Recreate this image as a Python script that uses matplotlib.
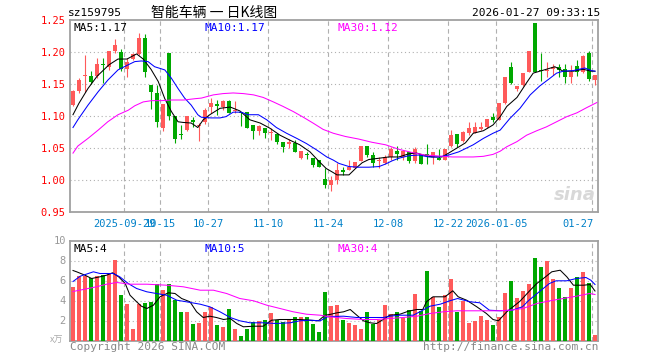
import numpy as np
import matplotlib
matplotlib.use("Agg")
import matplotlib.pyplot as plt

# ---- data (88 trading days, 2025-09-16 .. 2026-01-27) ----
opens = [1.117, 1.139, 1.162, 1.163, 1.163, 1.182, 1.176, 1.201, 1.200, 1.174,
         1.189, 1.197, 1.222, 1.148, 1.136, 1.082, 1.199, 1.100, 1.071, 1.078,
         1.093, 1.085, 1.090, 1.114, 1.118, 1.114, 1.123, 1.108, 1.106, 1.106,
         1.086, 1.077, 1.081, 1.073, 1.072, 1.059, 1.057, 1.058, 1.035, 1.040,
         1.035, 1.031, 1.001, 0.992, 1.000, 1.015, 1.016, 1.019, 1.029, 1.053,
         1.039, 1.029, 1.026, 1.036, 1.045, 1.036, 1.044, 1.029, 1.040, 1.041,
         1.036, 1.035, 1.032, 1.053, 1.072, 1.061, 1.074, 1.074, 1.079, 1.083,
         1.099, 1.093, 1.121, 1.176, 1.142, 1.148, 1.169, 1.245, 1.172, 1.170,
         1.174, 1.177, 1.174, 1.161, 1.178, 1.169, 1.198, 1.156]
highs = [1.141, 1.160, 1.195, 1.170, 1.190, 1.191, 1.202, 1.220, 1.205, 1.191,
         1.199, 1.230, 1.228, 1.149, 1.148, 1.118, 1.199, 1.100, 1.086, 1.100,
         1.099, 1.089, 1.112, 1.128, 1.125, 1.125, 1.125, 1.123, 1.106, 1.106,
         1.086, 1.086, 1.081, 1.081, 1.074, 1.059, 1.064, 1.062, 1.045, 1.044,
         1.035, 1.031, 1.019, 1.006, 1.027, 1.021, 1.031, 1.028, 1.053, 1.053,
         1.044, 1.036, 1.039, 1.052, 1.053, 1.045, 1.044, 1.052, 1.040, 1.057,
         1.044, 1.049, 1.049, 1.078, 1.072, 1.077, 1.091, 1.091, 1.091, 1.096,
         1.105, 1.121, 1.161, 1.185, 1.147, 1.167, 1.202, 1.245, 1.199, 1.185,
         1.182, 1.182, 1.182, 1.180, 1.187, 1.195, 1.202, 1.164]
lows = [1.116, 1.136, 1.138, 1.150, 1.159, 1.152, 1.172, 1.198, 1.170, 1.161,
        1.188, 1.195, 1.161, 1.111, 1.083, 1.076, 1.094, 1.058, 1.064, 1.077,
        1.083, 1.061, 1.088, 1.104, 1.102, 1.109, 1.105, 1.104, 1.085, 1.082,
        1.064, 1.070, 1.065, 1.063, 1.056, 1.043, 1.050, 1.044, 1.033, 1.033,
        1.021, 1.021, 0.987, 0.983, 0.993, 1.008, 1.015, 1.018, 1.029, 1.036,
        1.021, 1.018, 1.025, 1.032, 1.032, 1.032, 1.027, 1.027, 1.025, 1.025,
        1.025, 1.031, 1.031, 1.052, 1.052, 1.060, 1.070, 1.073, 1.078, 1.081,
        1.091, 1.093, 1.119, 1.150, 1.139, 1.147, 1.168, 1.169, 1.155, 1.161,
        1.164, 1.161, 1.151, 1.151, 1.162, 1.167, 1.155, 1.148]
closes = [1.139, 1.156, 1.163, 1.153, 1.182, 1.180, 1.201, 1.211, 1.174, 1.185,
          1.197, 1.222, 1.168, 1.138, 1.090, 1.118, 1.100, 1.064, 1.070, 1.100,
          1.091, 1.086, 1.110, 1.120, 1.115, 1.123, 1.105, 1.109, 1.104, 1.082,
          1.077, 1.084, 1.074, 1.074, 1.060, 1.052, 1.059, 1.044, 1.045, 1.039,
          1.023, 1.021, 0.992, 1.000, 1.016, 1.013, 1.020, 1.028, 1.053, 1.039,
          1.027, 1.031, 1.036, 1.048, 1.040, 1.045, 1.029, 1.049, 1.025, 1.039,
          1.044, 1.031, 1.048, 1.070, 1.057, 1.075, 1.081, 1.083, 1.083, 1.096,
          1.093, 1.121, 1.161, 1.152, 1.147, 1.167, 1.202, 1.169, 1.170, 1.172,
          1.176, 1.172, 1.161, 1.168, 1.168, 1.193, 1.158, 1.164]
# volume in units of 10k
volumes = [5.37, 6.43, 6.43, 6.27, 6.43, 6.53, 6.70, 8.03, 4.53, 3.70,
           1.13, 3.70, 3.77, 3.83, 5.67, 5.10, 5.63, 4.10, 2.87, 2.87,
           1.63, 1.73, 2.87, 3.37, 1.53, 1.37, 3.13, 1.17, 0.43, 1.17,
           1.87, 1.97, 2.03, 2.77, 2.10, 1.83, 2.10, 2.37, 2.37, 2.37,
           1.63, 0.87, 4.87, 3.43, 3.53, 2.03, 1.77, 1.53, 1.13, 2.83,
           1.70, 2.10, 3.53, 2.63, 2.83, 2.30, 3.03, 4.63, 2.93, 6.93,
           4.37, 3.33, 4.53, 6.13, 2.87, 3.97, 1.77, 1.97, 2.47, 2.03,
           1.53, 2.37, 4.77, 5.97, 4.23, 4.93, 5.67, 8.23, 7.33, 7.97,
           6.13, 5.23, 4.37, 5.23, 6.33, 6.83, 5.77, 0.53]

# moving averages (index, value)
ma5_idx = [0, 1, 2.5, 4, 6, 7.5, 9, 10.6, 11.7, 13, 14.2, 15.3, 16.4, 17.5, 18.3,
           19.7, 20.8, 21.7, 22.8, 24.5, 26.2, 27.8, 29.5, 31.2, 32.8, 34.5, 36.2,
           37.8, 39.5, 41, 42.2, 43.3, 44, 46, 47.1, 48.2, 49.3, 51, 52.6, 54.3,
           56, 57.3, 58.4, 59.8, 61.5, 62.6, 64, 65.4, 66.7, 68.4, 70, 71.2, 72.3,
           74, 75.6, 76.7, 77.8, 78.9, 80.3, 81.7, 83.4, 85, 86.4, 87]
ma5_val = [1.102, 1.120, 1.143, 1.162, 1.180, 1.189, 1.189, 1.197, 1.189, 1.173,
           1.154, 1.127, 1.107, 1.091, 1.090, 1.089, 1.082, 1.094, 1.102, 1.112,
           1.114, 1.108, 1.094, 1.089, 1.081, 1.070, 1.062, 1.055, 1.044, 1.029,
           1.018, 1.012, 1.008, 1.008, 1.018, 1.027, 1.032, 1.034, 1.036, 1.036,
           1.041, 1.042, 1.039, 1.036, 1.036, 1.042, 1.050, 1.058, 1.073, 1.077,
           1.086, 1.099, 1.115, 1.129, 1.152, 1.167, 1.170, 1.173, 1.177, 1.170,
           1.170, 1.173, 1.170, 1.170]
ma10_idx = [0, 0.8, 2.5, 4.2, 5.8, 7.5, 9.2, 10.3, 11.4, 12.5, 13.6, 15.3, 16.4,
            17.5, 18.6, 19.7, 20.8, 21.4, 23, 24.5, 25.5, 26.7, 28, 29.2, 30.9,
            32.3, 33.9, 35.6, 37.3, 38.9, 40.6, 42.3, 43.4, 44.3, 46, 47.6, 49.3,
            51, 52.1, 53.2, 54.3, 56, 57.6, 59.3, 61, 62.6, 64.3, 65.4, 66.7,
            68.4, 70, 71.2, 72.8, 74.5, 76.2, 77.8, 79.5, 80.6, 81.7, 83.4, 85.3,
            86.4, 87]
ma10_val = [1.082, 1.094, 1.117, 1.138, 1.156, 1.172, 1.180, 1.185, 1.186, 1.185,
            1.177, 1.172, 1.159, 1.143, 1.128, 1.117, 1.102, 1.098, 1.097, 1.097,
            1.099, 1.106, 1.106, 1.102, 1.102, 1.094, 1.082, 1.073, 1.065, 1.057,
            1.047, 1.036, 1.031, 1.026, 1.021, 1.020, 1.020, 1.021, 1.025, 1.030,
            1.034, 1.038, 1.039, 1.036, 1.036, 1.039, 1.044, 1.049, 1.055, 1.065,
            1.073, 1.078, 1.096, 1.112, 1.133, 1.147, 1.159, 1.167, 1.170, 1.171,
            1.175, 1.171, 1.170]
ma30_idx = [0, 0.8, 2.5, 4.2, 5.8, 7.5, 9.2, 10.3, 11.7, 13.1, 14.7, 16.4, 18.5,
            20.3, 21.4, 23.4, 25, 26.7, 28.4, 30.1, 31.7, 33.4, 35, 36.7, 38.4,
            40, 41.7, 43.4, 45.4, 47.6, 49.8, 52.1, 54.3, 56.5, 58.7, 61, 63.2,
            66.7, 68.4, 70, 71.2, 72.3, 74, 75.6, 77.3, 78.9, 80.6, 82.3, 84,
            85.6, 87.3]
ma30_val = [1.042, 1.053, 1.065, 1.078, 1.091, 1.102, 1.109, 1.116, 1.122, 1.124,
            1.124, 1.125, 1.125, 1.127, 1.128, 1.133, 1.135, 1.136, 1.135, 1.133,
            1.129, 1.122, 1.115, 1.107, 1.098, 1.089, 1.079, 1.073, 1.068, 1.064,
            1.059, 1.055, 1.048, 1.043, 1.039, 1.0375, 1.036, 1.036, 1.037, 1.040,
            1.045, 1.052, 1.060, 1.070, 1.077, 1.083, 1.091, 1.099, 1.105, 1.113,
            1.121]

vma5_idx = [0, 0.6, 2, 3.1, 4.5, 5.6, 6.6, 7.6, 8.7, 9.5, 10.6, 11.4, 12.3, 13.4,
            14.5, 15.9, 17, 18.1, 19.5, 20.6, 21.7, 22.8, 23.9, 25.1, 26.2, 27.3,
            28.4, 30.1, 31.7, 33.1, 34.5, 36.2, 37.8, 39.5, 40.9, 42, 42.8, 44,
            45.1, 46.2, 47.3, 48.4, 49.5, 50.6, 51.7, 52.8, 54.5, 55.9, 57.3, 58.3,
            58.9, 60, 62, 63.3, 64.2, 65.6, 67.3, 68.9, 70, 70.9, 72.3, 74.5, 76.2,
            77.3, 78.4, 79.8, 81.2, 82.3, 83.4, 85.1, 86.2, 87]
vma5_val = [7.0, 6.87, 6.53, 6.2, 6.37, 6.53, 6.77, 6.37, 5.7, 4.53, 3.87, 3.43,
            3.2, 3.53, 4.37, 4.77, 4.7, 4.2, 3.87, 2.87, 2.3, 2.43, 2.3, 2.1, 2.2,
            1.7, 1.37, 1.43, 1.43, 2.03, 2.1, 2.1, 2.1, 2.03, 1.97, 2.53, 2.6,
            2.77, 2.87, 3.1, 2.53, 1.97, 1.77, 1.7, 2.1, 2.53, 2.63, 2.93, 3.1,
            3.1, 3.87, 4.37, 4.37, 4.97, 4.37, 4.03, 3.37, 2.7, 2.1, 1.97, 2.87,
            3.93, 5.03, 5.7, 6.2, 6.87, 7.03, 6.37, 5.53, 5.53, 5.6, 4.95]
vma10_idx = [0, 1.2, 3.4, 4.5, 6.7, 7.8, 9.2, 10.6, 12.3, 13.9, 15.6, 17.3, 18.9,
             21.2, 22.8, 24.5, 26.2, 27.8, 29.5, 31.7, 33.9, 36.2, 37.8, 39.5,
             41.2, 42.5, 45.1, 47.3, 49.5, 51.7, 52.8, 54.5, 56.7, 57.8, 59.5,
             61.2, 62.8, 64.1, 66.2, 67.8, 69.4, 71.2, 73.2, 74.9, 76, 77.7, 79.4,
             80.5, 82.3, 83.9, 85.5, 86.3, 87]
vma10_val = [5.9, 6.43, 6.87, 6.7, 6.7, 6.37, 5.7, 5.2, 4.87, 4.7, 4.53, 4.03,
             3.87, 3.63, 3.37, 2.87, 2.3, 1.97, 1.77, 1.77, 1.7, 1.77, 1.97, 2.03,
             1.97, 2.4, 2.43, 2.3, 2.3, 2.3, 2.43, 2.53, 2.53, 2.87, 3.43, 3.63,
             3.97, 4.2, 3.87, 3.77, 3.03, 2.97, 3.03, 3.37, 4.03, 4.87, 5.7, 5.97,
             5.97, 6.2, 6.3, 6.03, 5.6]
vma30_idx = [0, 1.7, 3.9, 5.6, 7.3, 9.5, 12.3, 15.6, 18.4, 21.2, 23.4, 25.6, 27.8,
             30.1, 32.3, 34.5, 36.7, 38.9, 41.2, 42.8, 45.6, 48.4, 50.6, 52.8, 55,
             57.3, 59.5, 61.7, 63.9, 66.2, 68.4, 70.6, 72.8, 75, 77.3, 79.5, 81.7,
             83.9, 86.1, 87]
vma30_val = [4.9, 5.1, 5.37, 5.63, 5.8, 5.63, 5.63, 5.53, 5.37, 5.03, 5.03, 4.7,
             4.2, 3.97, 3.53, 3.2, 2.87, 2.63, 2.53, 2.37, 2.2, 2.1, 2.1, 2.2, 2.3,
             2.43, 2.7, 2.87, 2.97, 2.97, 2.97, 2.97, 3.03, 3.2, 3.7, 3.97, 4.2,
             4.43, 4.7, 4.6]

tick_idx = [9, 15, 23, 33, 43, 53, 63, 71, 87]
tick_labels = ["2025-09-29", "10-15", "10-27", "11-10", "11-24", "12-08",
               "12-22", "2026-01-05", "01-27"]
price_ticks = [0.95, 1.00, 1.05, 1.10, 1.15, 1.20, 1.25]
vol_ticks = [2, 4, 6, 8, 10]

RED = "#ff5a5a"
GREEN = "#00a800"
FRAME = "#a0a0a0"
GRID = "#b0b0b0"
MONO = "DejaVu Sans Mono"
CJK = ["Noto Sans CJK SC", "DejaVu Sans"]
LW = 0.75


def frame(ax):
    for s in ax.spines.values():
        s.set_color(FRAME)
        s.set_linewidth(1.3)
    ax.set_xticks([])
    ax.tick_params(axis="y", length=0, pad=3)


def vgrid(ax):
    for t in tick_idx:
        ax.axvline(t - 0.45, color=GRID, lw=0.8, ls=(0, (4, 3)), zorder=0)


fig = plt.figure(figsize=(6.6, 3.6), dpi=100)
W, H = 660.0, 360.0
ax = fig.add_axes([70 / W, 1 - 212 / H, 528 / W, 192 / H])
axv = fig.add_axes([70 / W, 1 - 340.5 / H, 528 / W, 100 / H])

n = len(closes)
x = np.arange(n)
o = np.array(opens)
c = np.array(closes)
up = c >= o
cols = [RED if u else GREEN for u in up]

# ---- price panel ----
ax.vlines(x, lows, highs, colors=cols, lw=0.8, zorder=3)
body_h = np.maximum(np.abs(c - o), 0.0016)
ax.bar(x, body_h, bottom=np.minimum(o, c), width=0.78, color=cols,
       linewidth=0, zorder=4)
ax.plot(ma5_idx, ma5_val, color="black", lw=LW, zorder=5)
ax.plot(ma10_idx, ma10_val, color="#0000ff", lw=LW, zorder=5)
ax.plot(ma30_idx, ma30_val, color="#ff00ff", lw=LW, zorder=5)

ax.set_xlim(-0.5, n - 0.5)
ax.set_ylim(0.95, 1.25)
for p in price_ticks[1:-1]:
    ax.axhline(p, color=GRID, lw=0.8, ls=(0, (1, 2.5)), zorder=0)
vgrid(ax)
frame(ax)
ax.set_yticks(price_ticks)
ax.set_yticklabels(["%.2f" % p for p in price_ticks], color="red",
                   fontsize=7.5, family=MONO)

for t, lab in zip(tick_idx, tick_labels):
    if t == tick_idx[-1]:
        ax.text(t - 0.3, -0.035, lab, transform=ax.get_xaxis_transform(),
                ha="right", va="top", fontsize=7.5, family=MONO, color="#0080c8")
    else:
        ax.text(t - 0.45, -0.035, lab, transform=ax.get_xaxis_transform(),
                ha="center", va="top", fontsize=7.5, family=MONO, color="#0080c8")

ax.text(0.006, 0.985, "MA5:1.17", transform=ax.transAxes, ha="left", va="top",
        fontsize=8, family=MONO, color="black")
ax.text(0.255, 0.985, "MA10:1.17", transform=ax.transAxes, ha="left", va="top",
        fontsize=8, family=MONO, color="#0000ff")
ax.text(0.506, 0.985, "MA30:1.12", transform=ax.transAxes, ha="left", va="top",
        fontsize=8, family=MONO, color="#ff00ff")
ax.text(0.995, 0.04, "sina", transform=ax.transAxes, ha="right", va="bottom",
        fontsize=13, style="italic", weight="bold", color="#d8d8d8", zorder=1)

# ---- volume panel ----
axv.bar(x, volumes, width=0.78, color=cols, linewidth=0, zorder=3)
axv.plot(vma5_idx, vma5_val, color="black", lw=LW, zorder=5)
axv.plot(vma10_idx, vma10_val, color="#0000ff", lw=LW, zorder=5)
axv.plot(vma30_idx, vma30_val, color="#ff00ff", lw=LW, zorder=5)
axv.set_xlim(-0.5, n - 0.5)
axv.set_ylim(0, 10)
for v in vol_ticks[:-1]:
    axv.axhline(v, color=GRID, lw=0.8, ls=(0, (1, 2.5)), zorder=0)
vgrid(axv)
frame(axv)
axv.set_yticks(vol_ticks)
axv.set_yticklabels([str(v) for v in vol_ticks], color="#999999",
                    fontsize=7.5, family=MONO)
axv.text(-0.012, 0.0, "x万", transform=axv.transAxes, ha="right", va="center",
         fontsize=6.5, family=CJK, color="#aaaaaa")

axv.text(0.006, 0.97, "MA5:4", transform=axv.transAxes, ha="left", va="top",
         fontsize=8, family=MONO, color="black")
axv.text(0.255, 0.97, "MA10:5", transform=axv.transAxes, ha="left", va="top",
         fontsize=8, family=MONO, color="#0000ff")
axv.text(0.506, 0.97, "MA30:4", transform=axv.transAxes, ha="left", va="top",
         fontsize=8, family=MONO, color="#ff00ff")

# ---- header / footer ----
fig.text(68 / W, 1 - 13 / H, "sz159795", ha="left", va="center",
         fontsize=8, family=MONO, color="black")
fig.text(214 / W, 1 - 13 / H, "智能车辆 一 日K线图", ha="center", va="center",
         fontsize=10, family=CJK, color="black")
fig.text(600 / W, 1 - 13 / H, "2026-01-27 09:33:15", ha="right", va="center",
         fontsize=8, family=MONO, color="black")
fig.text(70 / W, 1 - 347 / H, "Copyright 2026 SINA.COM", ha="left",
         va="center", fontsize=8, family=MONO, color="#888888")
fig.text(598 / W, 1 - 347 / H, "http://finance.sina.com.cn", ha="right",
         va="center", fontsize=8, family=MONO, color="#888888")

fig.savefig("out.png", dpi=100, facecolor="white")
